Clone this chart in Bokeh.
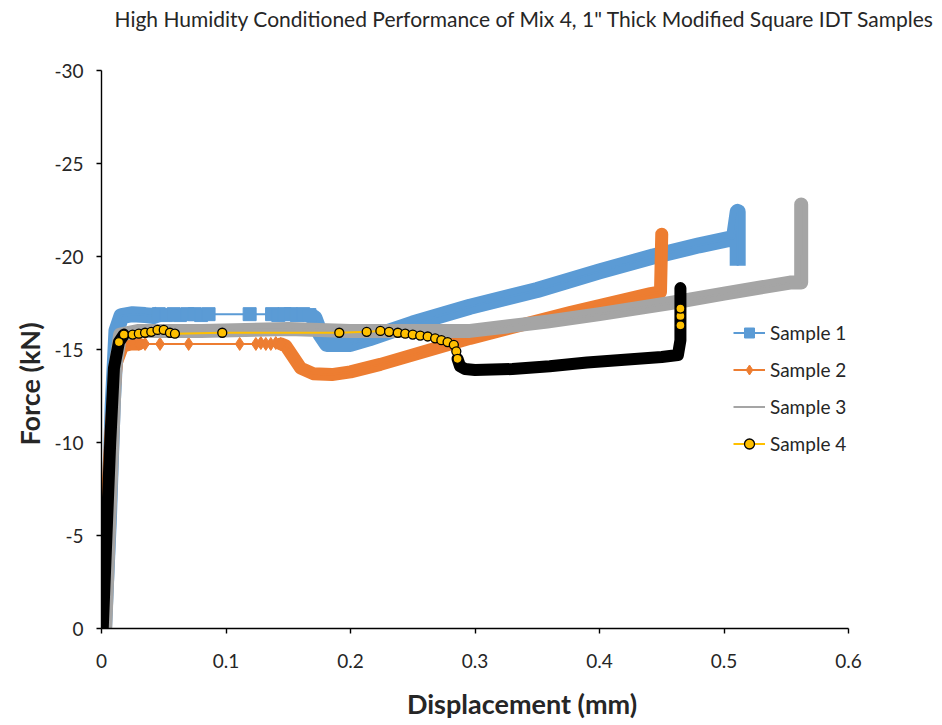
from bokeh.plotting import figure
from bokeh.models import (Range1d, FixedTicker, CustomJSTickFormatter, Title,
                          Label, Legend, LegendItem)
from bokeh.embed import file_html
from bokeh.resources import INLINE

# ---------------------------------------------------------------- data
# Displacement (mm) / force (kN) readings for each sample

s1_x = [0.002, 0.006, 0.009, 0.012, 0.016, 0.025, 0.035, 0.042,
        0.046, 0.052, 0.058, 0.063, 0.069, 0.075, 0.080, 0.086, 0.119,
        0.137, 0.142, 0.147, 0.152, 0.157, 0.162, 0.167,
        0.171, 0.176, 0.181, 0.200, 0.215, 0.250, 0.296, 0.350, 0.400,
        0.443, 0.480, 0.508, 0.511, 0.511]
s1_y = [0.0, -6.0, -12.0, -16.0, -16.8, -16.9, -16.85, -16.8,
        -16.9, -16.85, -16.9, -16.85, -16.9, -16.9, -16.85, -16.9, -16.9,
        -16.9, -16.85, -16.9, -16.9, -16.85, -16.9, -16.85,
        -16.7, -15.8, -15.3, -15.3, -15.6, -16.4, -17.3, -18.2, -19.2,
        -20.0, -20.6, -21.0, -22.4, -19.5]

s2_x = [0.000, 0.004, 0.008, 0.012, 0.017, 0.024,
        0.030, 0.035, 0.047, 0.070, 0.111, 0.124, 0.128, 0.132, 0.136,
        0.140, 0.144,
        0.148, 0.153, 0.160, 0.170, 0.185, 0.200, 0.224, 0.296, 0.377,
        0.441, 0.449, 0.450]
s2_y = [0.0, -6.0, -11.0, -14.3, -15.2, -15.3,
        -15.3, -15.3, -15.3, -15.3, -15.3, -15.3, -15.35, -15.3, -15.3,
        -15.35, -15.3,
        -15.2, -14.7, -14.0, -13.7, -13.65, -13.8, -14.2, -15.6, -17.0,
        -18.0, -18.1, -21.2]

s3_x = [0.003, 0.007, 0.011, 0.015, 0.030, 0.080, 0.150, 0.200, 0.250,
        0.296, 0.358, 0.400, 0.457, 0.500, 0.553, 0.562, 0.562]
s3_y = [0.0, -7.0, -14.0, -15.8, -16.0, -16.0, -16.1, -16.0, -16.0,
        -16.0, -16.5, -16.9, -17.5, -18.0, -18.6, -18.6, -22.8]

s4_x = [0.001, 0.004, 0.007, 0.010, 0.014, 0.018,
        0.025, 0.030, 0.035, 0.040, 0.045, 0.050, 0.055, 0.059, 0.097,
        0.191, 0.213, 0.224, 0.231, 0.238, 0.244, 0.250, 0.256, 0.262,
        0.268, 0.273, 0.278, 0.283, 0.285,
        0.286, 0.288, 0.292, 0.300, 0.330, 0.360, 0.390, 0.420, 0.450,
        0.463, 0.465, 0.465, 0.465, 0.465, 0.465]
s4_y = [0.0, -5.0, -10.0, -14.0, -15.4, -15.8,
        -15.8, -15.85, -15.9, -15.95, -16.05, -16.05, -15.9, -15.85, -15.9,
        -15.9, -15.95, -16.0, -15.95, -15.9, -15.85, -15.8, -15.75, -15.7,
        -15.6, -15.5, -15.4, -15.25, -14.9,
        -14.5, -14.1, -13.95, -13.9, -13.95, -14.1, -14.3, -14.45, -14.6,
        -14.7, -15.5, -16.3, -16.8, -17.2, -18.3]

x_ticks = [0, 0.1, 0.2, 0.3, 0.4, 0.5, 0.6]
y_ticks = [0, -5, -10, -15, -20, -25, -30]
x_limits = (0, 0.6)
y_limits = (0, -30)
series_names = ["Sample 1", "Sample 2", "Sample 3", "Sample 4"]

# ---------------------------------------------------------------- layout
FONT = "Lato"
TEXT = "#262626"
BLUE, ORANGE, GREY, GOLD = "#5B9BD5", "#ED7D31", "#A5A5A5", "#FFC000"

W, H = 942, 725
LEFT, BOTTOM = 101, 97          # space for the axes
AXIS_W, AXIS_H = 747, 558       # drawn length of the x and y axes
PX_X = AXIS_W / (x_limits[1] - x_limits[0])
PX_Y = AXIS_H / (y_limits[0] - y_limits[1])

# the plotting frame runs to the top and right edges so the title and
# legend can sit inside it; the axes themselves stop at their limits
frame_w, frame_h = W - LEFT, H - BOTTOM
x_range = Range1d(x_limits[0], x_limits[0] + frame_w / PX_X)
y_range = Range1d(y_limits[0], y_limits[0] - frame_h / PX_Y)

p = figure(width=W, height=H, output_backend="svg", toolbar_location=None,
           x_range=x_range, y_range=y_range,
           min_border_left=LEFT, min_border_right=0, min_border_top=0,
           min_border_bottom=BOTTOM)
p.outline_line_color = None
p.xgrid.visible = False
p.ygrid.visible = False
p.background_fill_color = "white"
p.border_fill_color = "white"

for ax, ticks, lim in ((p.xaxis[0], x_ticks, x_limits),
                       (p.yaxis[0], y_ticks, (y_limits[1], y_limits[0]))):
    ax.ticker = FixedTicker(ticks=ticks)
    ax.bounds = lim
    ax.axis_line_color = "black"
    ax.axis_line_width = 1.4
    ax.major_tick_line_color = "black"
    ax.major_tick_line_width = 1.4
    ax.major_tick_in = 0
    ax.major_tick_out = 5
    ax.minor_tick_line_color = None
    ax.major_label_text_font = FONT
    ax.major_label_text_font_size = "19px"
    ax.major_label_text_color = TEXT

p.xaxis[0].formatter = CustomJSTickFormatter(code="return String(Math.round(tick*10)/10);")
p.yaxis[0].formatter = CustomJSTickFormatter(code="return tick.toFixed(0);")
p.xaxis[0].major_label_standoff = 20
p.yaxis[0].major_label_standoff = 13

p.xaxis[0].axis_label = "Displacement (mm)"
p.xaxis[0].axis_label_standoff = 16
p.xaxis[0].axis_label_text_font = FONT
p.xaxis[0].axis_label_text_font_size = "27px"
p.xaxis[0].axis_label_text_font_style = "bold"
p.xaxis[0].axis_label_text_color = TEXT


def band(xs, ys, spans, color, width, cap="round"):
    """Thick stroke along the dense stretches of a series."""
    for a, b in spans:
        p.line(xs[a:b + 1], ys[a:b + 1], line_color=color, line_width=width,
               line_join="round", line_cap=cap)


def pick(seq, idx):
    return [seq[i] for i in idx]


# Sample 1
band(s1_x, s1_y, [(0, 8), (23, len(s1_x) - 1)], BLUE, 16, cap="butt")
l1 = p.line(s1_x, s1_y, line_color=BLUE, line_width=2)
m1_idx = list(range(8, 24))
m1 = p.scatter(pick(s1_x, m1_idx), pick(s1_y, m1_idx), marker="square", size=13,
               fill_color=BLUE, line_color=BLUE)

# Sample 2
band(s2_x, s2_y, [(0, 6), (16, len(s2_x) - 1)], ORANGE, 13)
l2 = p.line(s2_x, s2_y, line_color=ORANGE, line_width=2)
m2_idx = list(range(6, 17))
m2 = p.scatter(pick(s2_x, m2_idx), pick(s2_y, m2_idx), marker="diamond", size=13,
               fill_color=ORANGE, line_color=ORANGE)

# Sample 3
band(s3_x, s3_y, [(0, len(s3_x) - 1)], GREY, 14)
l3 = p.line(s3_x, s3_y, line_color=GREY, line_width=2)
m3 = p.scatter(x=[], y=[], marker="triangle", size=10,
               fill_color=GREY, line_color=GREY)

# Sample 4: connecting line first, dense stretches as a black band on top
l4 = p.line(s4_x, s4_y, line_color=GOLD, line_width=2)
band(s4_x, s4_y, [(0, 5), (29, len(s4_x) - 1)], "black", 12)
m4_idx = list(range(4, 30)) + [40, 41, 42]
m4 = p.scatter(pick(s4_x, m4_idx), pick(s4_y, m4_idx), marker="circle", size=9,
               fill_color=GOLD, line_color="black", line_width=1.3)

legend = Legend(items=[LegendItem(label=series_names[0], renderers=[l1, m1]),
                       LegendItem(label=series_names[1], renderers=[l2, m2]),
                       LegendItem(label=series_names[2], renderers=[l3, m3]),
                       LegendItem(label=series_names[3], renderers=[l4, m4])],
                location=(632, 172), orientation="vertical",
                glyph_width=32, glyph_height=25, label_height=25,
                label_standoff=5, spacing=12, padding=0, margin=0,
                background_fill_alpha=0, border_line_color=None,
                label_text_font=FONT, label_text_font_size="19px",
                label_text_color=TEXT)
p.add_layout(legend)

# chart title, inside the frame's top strip
p.add_layout(Label(x=13, y=frame_h - 18, x_units="screen", y_units="screen",
                   text='High Humidity Conditioned Performance of Mix 4, 1" Thick Modified Square IDT Samples',
                   text_font=FONT, text_font_size="21px", text_color=TEXT,
                   text_align="left", text_baseline="middle"))

# vertical axis title
p.add_layout(Title(text="Force (kN)", align="left", offset=183,
                   standoff=12, text_font=FONT, text_font_size="27px",
                   text_font_style="bold", text_color=TEXT), "left")

open("out.html", "w").write(file_html(p, INLINE))
